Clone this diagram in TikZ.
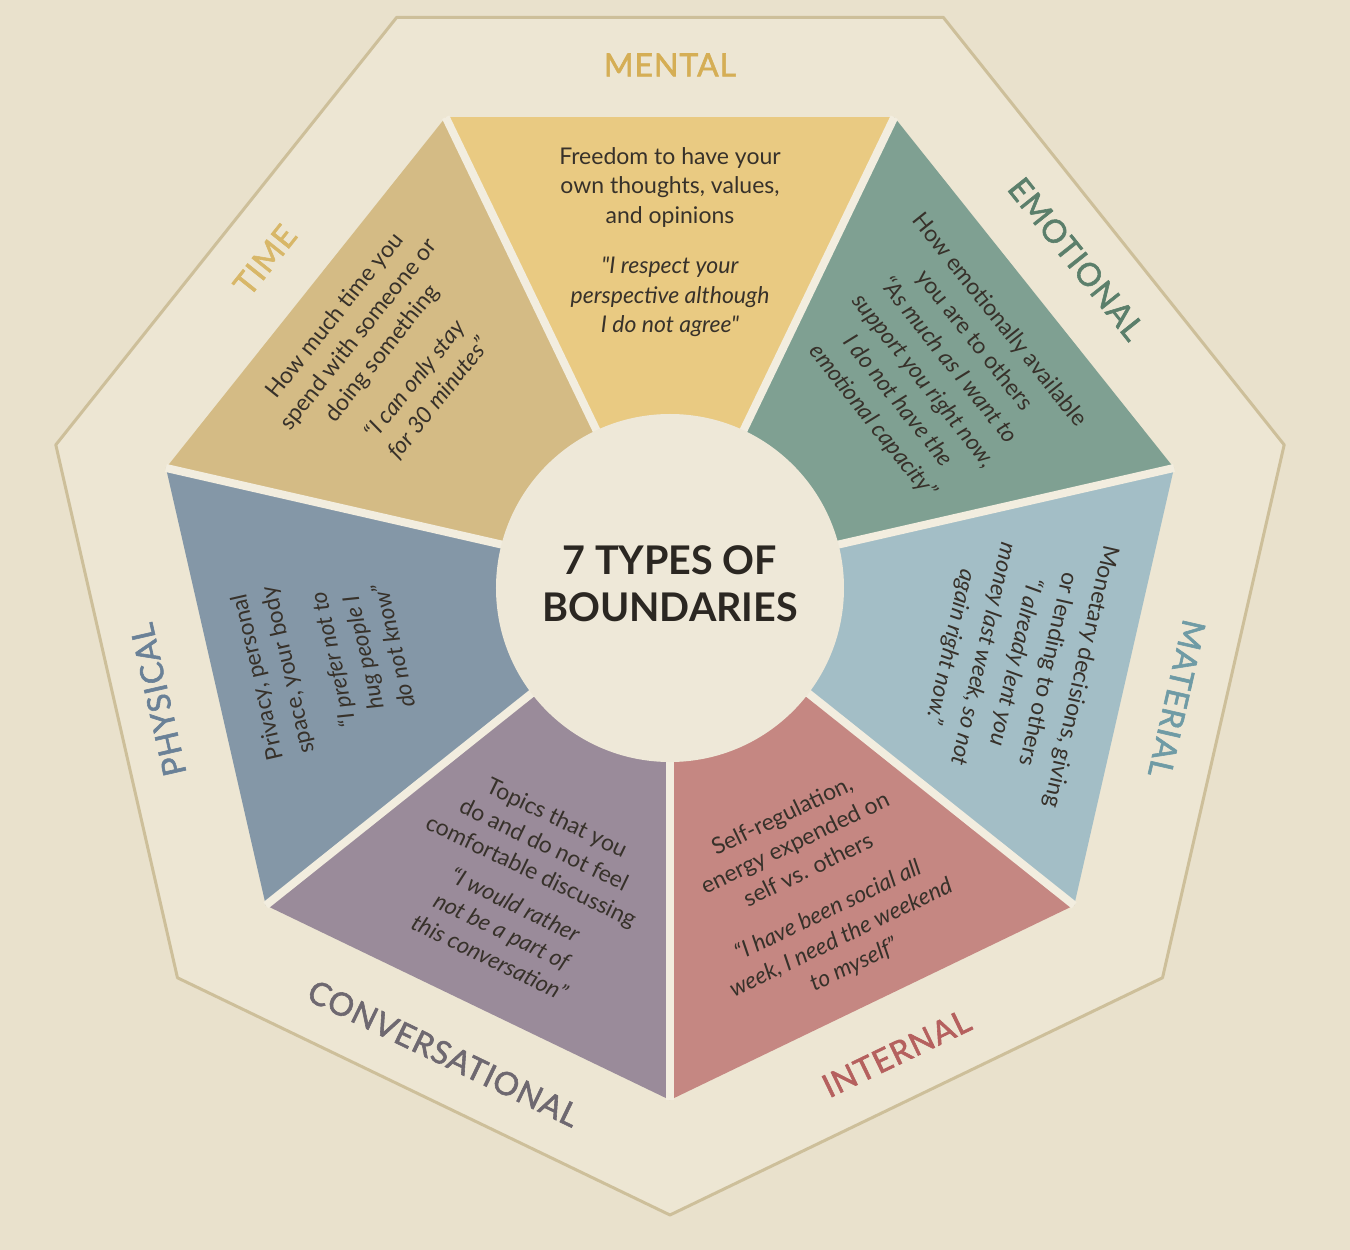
\documentclass[tikz,border=0pt]{standalone}
\usepackage{fontspec}
\setmainfont{Lato}[Ligatures=TeXOff]
\newfontfamily\labfont{Lato}[LetterSpace=3,FakeBold=1.8]
\definecolor{bg}{HTML}{E9E1CC}
\definecolor{inbg}{HTML}{EDE6D3}
\definecolor{gapc}{HTML}{F2EDDF}
\definecolor{circc}{HTML}{EEE8D8}
\definecolor{edgec}{HTML}{CDBF9A}
\definecolor{txt}{HTML}{37312A}
\definecolor{ttl}{HTML}{2B2722}
\definecolor{cmental}{HTML}{E9CA82}
\definecolor{ctime}{HTML}{D4BB85}
\definecolor{cemo}{HTML}{7FA092}
\definecolor{cmat}{HTML}{A3BEC6}
\definecolor{cint}{HTML}{C58782}
\definecolor{cconv}{HTML}{9A8B9A}
\definecolor{cphys}{HTML}{8497A7}
\definecolor{tmental}{HTML}{D5AE55}
\definecolor{ttime}{HTML}{D8B768}
\definecolor{temo}{HTML}{5B7F6B}
\definecolor{tmat}{HTML}{6F9BA5}
\definecolor{tint}{HTML}{B5605E}
\definecolor{tconv}{HTML}{6E6870}
\definecolor{tphys}{HTML}{6A8197}
\tikzset{
  lab/.style={font=\labfont\fontsize{32}{32}\selectfont, inner sep=0pt},
  body/.style={align=center, text=txt, font=\fontsize{23}{#1}\selectfont, inner sep=0pt},
  body/.default=29.5,
  gapline/.style={draw=gapc, line width=8pt},
}
\begin{document}
\begin{tikzpicture}[x=1pt,y=1pt]
\fill[bg] (-670,-667) rectangle (680,583);
\useasboundingbox (-670,-667) rectangle (680,583);
% outer heptagon
\draw[edgec, line width=3pt, fill=inbg, line join=round, shift={(0,-2)}]
  (115.7143:630) -- (64.2857:630) -- (12.8571:630) -- (-38.5714:630) -- (-90:630)
  -- (-141.4286:630) -- (167.1429:630) -- cycle;
% segments
\fill[cmental] (0,0) -- (115.7143:517) -- (64.2857:517) -- cycle;
\fill[cemo]    (0,0) -- (64.2857:517) -- (12.8571:517) -- cycle;
\fill[cmat]    (0,0) -- (12.8571:517) -- (-38.5714:517) -- cycle;
\fill[cint]    (0,0) -- (-38.5714:517) -- (-90:517) -- cycle;
\fill[cconv]   (0,0) -- (-90:517) -- (-141.4286:517) -- cycle;
\fill[cphys]   (0,0) -- (-141.4286:517) -- (167.1429:517) -- cycle;
\fill[ctime]   (0,0) -- (167.1429:517) -- (115.7143:517) -- cycle;
% gaps
\foreach \a in {115.7143,64.2857,12.8571,-38.5714,-90,-141.4286,167.1429}
  \draw[gapline] (0,0) -- (\a:517);
% centre circle
\fill[circc] (0,-5) circle (174);
\node[font=\fontsize{39.5}{47}\selectfont\bfseries, text=ttl, align=center, inner sep=0pt] (title) at (0,-1) {7 TYPES OF\\BOUNDARIES};
% outer labels
\node[lab, text=tmental] (lmental) at (90:518) {MENTAL};
\node[lab, text=temo, rotate=-51.4286] (lemo) at (38.5714:520) {EMOTIONAL};
\node[lab, text=tmat, rotate=-102.8571] (lmat) at (-12.8571:520) {MATERIAL};
\node[lab, text=tint, rotate=25.7143] (lint) at (-64.2857:522) {INTERNAL};
\node[lab, text=tconv, rotate=-25.7143] (lconv) at (-115.7143:522) {CONVERSATIONAL};
\node[lab, text=tphys, rotate=102.8571] (lphys) at (-167.1429:525) {PHYSICAL};
\node[lab, text=ttime, rotate=51.4286] (ltime) at (141.4286:518) {TIME};
% body texts
\node[body] (bmental) at (90:341) {Freedom to have your\\own thoughts, values,\\and opinions\\[21pt]\textit{"I respect your}\\\textit{perspective although}\\\textit{I do not agree"}};
\node[body=32.5, rotate=-51.4286] (bemo) at (38.5714:340) {How emotionally available\\you are to others\\\textit{“As much as I want to}\\\textit{support you right now,}\\\textit{I do not have the}\\\textit{emotional capacity”}};
\node[body=33.5, rotate=-102.8571] (bmat) at (-12.8571:354) {Monetary decisions, giving\\or lending to others\\\textit{“I already lent you}\\\textit{money last week, so not}\\\textit{again right now.”}};
\node[body=30, rotate=25.7143] (bint) at (-64.2857:342) {Self-regulation,\\energy expended on\\self vs. others\\[15pt]\textit{“I have been social all}\\\textit{week, I need the weekend}\\\textit{to myself”}};
\node[body=29.5, rotate=-25.7143] (bconv) at (-115.7143:338) {Topics that you\\do and do not feel\\comfortable discussing\\[8pt]\textit{“I would rather}\\\textit{not be a part of}\\\textit{this conversation”}};
\node[body=31, rotate=102.8571] (bphys) at (-167.1429:354) {Privacy, personal\\space, your body\\[16pt]\textit{“I prefer not to}\\\textit{hug people I}\\\textit{do not know”}};
\node[body=30, rotate=51.4286] (btime) at (141.4286:362) {How much time you\\spend with someone or\\doing something\\[13pt]\textit{“I can only stay}\\\textit{for 30 minutes”}};
\end{tikzpicture}
\end{document}
